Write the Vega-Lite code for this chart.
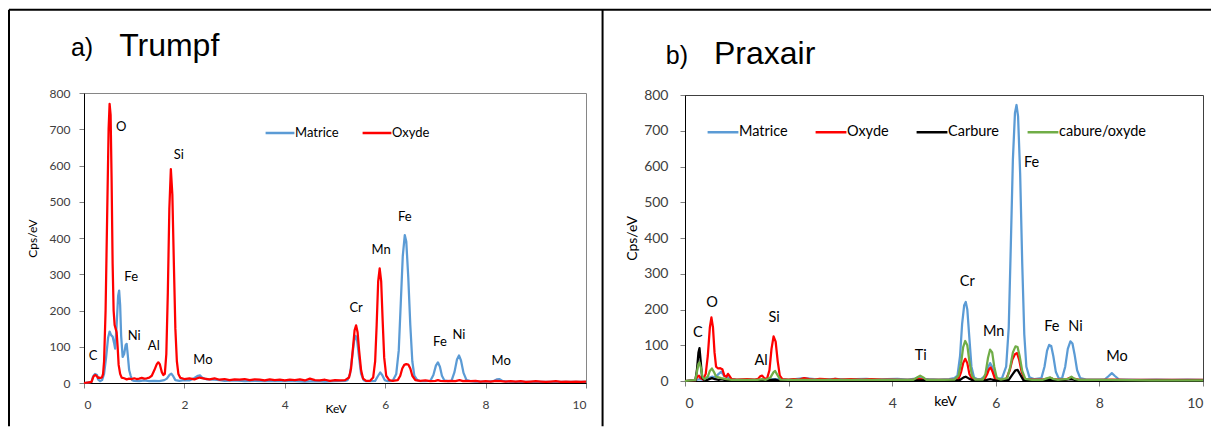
{
"$schema": "https://vega.github.io/schema/vega-lite/v6.json",
"autosize": {"type": "pad"},
"padding": {"left": 7, "top": 8, "right": 0, "bottom": 0},
"background": "#ffffff",
"bounds": "flush",
"spacing": 99,
"center": true,
"config": {"axis": {"labelOverlap": false}},
"resolve": {"scale": {"x": "independent", "y": "independent", "color": "independent"}, "legend": {"color": "independent"}},
"datasets": {
"a_lines": [
{"series":"Matrice","keV":0,"cps":0},{"series":"Matrice","keV":0.1,"cps":2},{"series":"Matrice","keV":0.15,"cps":3},{"series":"Matrice","keV":0.18,"cps":18},{"series":"Matrice","keV":0.22,"cps":25},{"series":"Matrice","keV":0.26,"cps":22},{"series":"Matrice","keV":0.28,"cps":10},{"series":"Matrice","keV":0.32,"cps":5},{"series":"Matrice","keV":0.36,"cps":8},{"series":"Matrice","keV":0.4,"cps":25},{"series":"Matrice","keV":0.44,"cps":70},{"series":"Matrice","keV":0.48,"cps":125},{"series":"Matrice","keV":0.51,"cps":142},{"series":"Matrice","keV":0.54,"cps":132},{"series":"Matrice","keV":0.57,"cps":128},{"series":"Matrice","keV":0.6,"cps":110},{"series":"Matrice","keV":0.62,"cps":95},{"series":"Matrice","keV":0.65,"cps":160},{"series":"Matrice","keV":0.68,"cps":240},{"series":"Matrice","keV":0.7,"cps":255},{"series":"Matrice","keV":0.72,"cps":215},{"series":"Matrice","keV":0.74,"cps":130},{"series":"Matrice","keV":0.77,"cps":72},{"series":"Matrice","keV":0.8,"cps":80},{"series":"Matrice","keV":0.83,"cps":105},{"series":"Matrice","keV":0.85,"cps":108},{"series":"Matrice","keV":0.87,"cps":80},{"series":"Matrice","keV":0.9,"cps":35},{"series":"Matrice","keV":0.93,"cps":20},{"series":"Matrice","keV":0.96,"cps":8},{"series":"Matrice","keV":1.0,"cps":6},{"series":"Matrice","keV":1.1,"cps":5},{"series":"Matrice","keV":1.2,"cps":7},{"series":"Matrice","keV":1.3,"cps":5},{"series":"Matrice","keV":1.4,"cps":6},{"series":"Matrice","keV":1.5,"cps":5},{"series":"Matrice","keV":1.6,"cps":8},{"series":"Matrice","keV":1.65,"cps":12},{"series":"Matrice","keV":1.7,"cps":22},{"series":"Matrice","keV":1.74,"cps":26},{"series":"Matrice","keV":1.78,"cps":18},{"series":"Matrice","keV":1.82,"cps":8},{"series":"Matrice","keV":1.9,"cps":6},{"series":"Matrice","keV":2.0,"cps":8},{"series":"Matrice","keV":2.1,"cps":7},{"series":"Matrice","keV":2.2,"cps":14},{"series":"Matrice","keV":2.27,"cps":20},{"series":"Matrice","keV":2.31,"cps":21},{"series":"Matrice","keV":2.36,"cps":14},{"series":"Matrice","keV":2.45,"cps":10},{"series":"Matrice","keV":2.6,"cps":9},{"series":"Matrice","keV":2.7,"cps":8},{"series":"Matrice","keV":2.8,"cps":6},{"series":"Matrice","keV":3.0,"cps":7},{"series":"Matrice","keV":3.2,"cps":5},{"series":"Matrice","keV":3.4,"cps":6},{"series":"Matrice","keV":3.6,"cps":5},{"series":"Matrice","keV":3.8,"cps":6},{"series":"Matrice","keV":4.0,"cps":5},{"series":"Matrice","keV":4.2,"cps":5},{"series":"Matrice","keV":4.4,"cps":4},{"series":"Matrice","keV":4.6,"cps":5},{"series":"Matrice","keV":4.8,"cps":4},{"series":"Matrice","keV":5.0,"cps":5},{"series":"Matrice","keV":5.2,"cps":6},{"series":"Matrice","keV":5.25,"cps":8},{"series":"Matrice","keV":5.3,"cps":25},{"series":"Matrice","keV":5.34,"cps":70},{"series":"Matrice","keV":5.38,"cps":115},{"series":"Matrice","keV":5.41,"cps":130},{"series":"Matrice","keV":5.44,"cps":118},{"series":"Matrice","keV":5.48,"cps":70},{"series":"Matrice","keV":5.52,"cps":25},{"series":"Matrice","keV":5.57,"cps":8},{"series":"Matrice","keV":5.62,"cps":5},{"series":"Matrice","keV":5.7,"cps":5},{"series":"Matrice","keV":5.8,"cps":6},{"series":"Matrice","keV":5.85,"cps":18},{"series":"Matrice","keV":5.9,"cps":29},{"series":"Matrice","keV":5.94,"cps":22},{"series":"Matrice","keV":5.99,"cps":8},{"series":"Matrice","keV":6.05,"cps":5},{"series":"Matrice","keV":6.15,"cps":6},{"series":"Matrice","keV":6.22,"cps":25},{"series":"Matrice","keV":6.27,"cps":90},{"series":"Matrice","keV":6.31,"cps":220},{"series":"Matrice","keV":6.35,"cps":350},{"series":"Matrice","keV":6.39,"cps":408},{"series":"Matrice","keV":6.42,"cps":390},{"series":"Matrice","keV":6.46,"cps":290},{"series":"Matrice","keV":6.5,"cps":160},{"series":"Matrice","keV":6.54,"cps":60},{"series":"Matrice","keV":6.58,"cps":20},{"series":"Matrice","keV":6.64,"cps":8},{"series":"Matrice","keV":6.7,"cps":5},{"series":"Matrice","keV":6.8,"cps":5},{"series":"Matrice","keV":6.9,"cps":6},{"series":"Matrice","keV":6.96,"cps":22},{"series":"Matrice","keV":7.01,"cps":48},{"series":"Matrice","keV":7.05,"cps":57},{"series":"Matrice","keV":7.09,"cps":45},{"series":"Matrice","keV":7.13,"cps":20},{"series":"Matrice","keV":7.18,"cps":7},{"series":"Matrice","keV":7.25,"cps":5},{"series":"Matrice","keV":7.32,"cps":6},{"series":"Matrice","keV":7.38,"cps":30},{"series":"Matrice","keV":7.43,"cps":65},{"series":"Matrice","keV":7.47,"cps":76},{"series":"Matrice","keV":7.51,"cps":62},{"series":"Matrice","keV":7.56,"cps":28},{"series":"Matrice","keV":7.62,"cps":8},{"series":"Matrice","keV":7.7,"cps":5},{"series":"Matrice","keV":7.8,"cps":4},{"series":"Matrice","keV":8.0,"cps":4},{"series":"Matrice","keV":8.15,"cps":5},{"series":"Matrice","keV":8.22,"cps":10},{"series":"Matrice","keV":8.27,"cps":11},{"series":"Matrice","keV":8.33,"cps":6},{"series":"Matrice","keV":8.45,"cps":4},{"series":"Matrice","keV":8.6,"cps":3},{"series":"Matrice","keV":9.0,"cps":3},{"series":"Matrice","keV":9.5,"cps":3},{"series":"Matrice","keV":10,"cps":3},
{"series":"Oxyde","keV":0,"cps":0},{"series":"Oxyde","keV":0.1,"cps":2},{"series":"Oxyde","keV":0.15,"cps":3},{"series":"Oxyde","keV":0.18,"cps":15},{"series":"Oxyde","keV":0.2,"cps":20},{"series":"Oxyde","keV":0.23,"cps":22},{"series":"Oxyde","keV":0.26,"cps":18},{"series":"Oxyde","keV":0.28,"cps":14},{"series":"Oxyde","keV":0.3,"cps":15},{"series":"Oxyde","keV":0.33,"cps":14},{"series":"Oxyde","keV":0.36,"cps":16},{"series":"Oxyde","keV":0.38,"cps":25},{"series":"Oxyde","keV":0.4,"cps":60},{"series":"Oxyde","keV":0.43,"cps":200},{"series":"Oxyde","keV":0.46,"cps":450},{"series":"Oxyde","keV":0.49,"cps":700},{"series":"Oxyde","keV":0.51,"cps":770},{"series":"Oxyde","keV":0.53,"cps":740},{"series":"Oxyde","keV":0.55,"cps":560},{"series":"Oxyde","keV":0.57,"cps":330},{"series":"Oxyde","keV":0.59,"cps":200},{"series":"Oxyde","keV":0.61,"cps":160},{"series":"Oxyde","keV":0.63,"cps":150},{"series":"Oxyde","keV":0.65,"cps":140},{"series":"Oxyde","keV":0.67,"cps":100},{"series":"Oxyde","keV":0.69,"cps":50},{"series":"Oxyde","keV":0.72,"cps":25},{"series":"Oxyde","keV":0.75,"cps":15},{"series":"Oxyde","keV":0.8,"cps":13},{"series":"Oxyde","keV":0.85,"cps":10},{"series":"Oxyde","keV":0.9,"cps":12},{"series":"Oxyde","keV":0.95,"cps":11},{"series":"Oxyde","keV":1.0,"cps":13},{"series":"Oxyde","keV":1.05,"cps":11},{"series":"Oxyde","keV":1.1,"cps":12},{"series":"Oxyde","keV":1.15,"cps":14},{"series":"Oxyde","keV":1.2,"cps":12},{"series":"Oxyde","keV":1.25,"cps":13},{"series":"Oxyde","keV":1.3,"cps":15},{"series":"Oxyde","keV":1.35,"cps":20},{"series":"Oxyde","keV":1.4,"cps":35},{"series":"Oxyde","keV":1.45,"cps":52},{"series":"Oxyde","keV":1.48,"cps":57},{"series":"Oxyde","keV":1.51,"cps":52},{"series":"Oxyde","keV":1.55,"cps":30},{"series":"Oxyde","keV":1.58,"cps":22},{"series":"Oxyde","keV":1.61,"cps":25},{"series":"Oxyde","keV":1.64,"cps":80},{"series":"Oxyde","keV":1.67,"cps":250},{"series":"Oxyde","keV":1.7,"cps":480},{"series":"Oxyde","keV":1.73,"cps":590},{"series":"Oxyde","keV":1.76,"cps":520},{"series":"Oxyde","keV":1.79,"cps":330},{"series":"Oxyde","keV":1.82,"cps":150},{"series":"Oxyde","keV":1.85,"cps":60},{"series":"Oxyde","keV":1.88,"cps":25},{"series":"Oxyde","keV":1.92,"cps":14},{"series":"Oxyde","keV":2.0,"cps":11},{"series":"Oxyde","keV":2.1,"cps":13},{"series":"Oxyde","keV":2.2,"cps":10},{"series":"Oxyde","keV":2.3,"cps":15},{"series":"Oxyde","keV":2.4,"cps":12},{"series":"Oxyde","keV":2.5,"cps":10},{"series":"Oxyde","keV":2.6,"cps":13},{"series":"Oxyde","keV":2.7,"cps":9},{"series":"Oxyde","keV":2.8,"cps":11},{"series":"Oxyde","keV":2.9,"cps":8},{"series":"Oxyde","keV":3.0,"cps":10},{"series":"Oxyde","keV":3.1,"cps":9},{"series":"Oxyde","keV":3.2,"cps":11},{"series":"Oxyde","keV":3.3,"cps":8},{"series":"Oxyde","keV":3.4,"cps":10},{"series":"Oxyde","keV":3.5,"cps":9},{"series":"Oxyde","keV":3.6,"cps":7},{"series":"Oxyde","keV":3.7,"cps":10},{"series":"Oxyde","keV":3.8,"cps":8},{"series":"Oxyde","keV":3.9,"cps":9},{"series":"Oxyde","keV":4.0,"cps":7},{"series":"Oxyde","keV":4.1,"cps":9},{"series":"Oxyde","keV":4.2,"cps":8},{"series":"Oxyde","keV":4.3,"cps":10},{"series":"Oxyde","keV":4.4,"cps":7},{"series":"Oxyde","keV":4.5,"cps":12},{"series":"Oxyde","keV":4.6,"cps":8},{"series":"Oxyde","keV":4.7,"cps":7},{"series":"Oxyde","keV":4.8,"cps":9},{"series":"Oxyde","keV":4.9,"cps":6},{"series":"Oxyde","keV":5.0,"cps":8},{"series":"Oxyde","keV":5.1,"cps":7},{"series":"Oxyde","keV":5.2,"cps":8},{"series":"Oxyde","keV":5.28,"cps":15},{"series":"Oxyde","keV":5.32,"cps":40},{"series":"Oxyde","keV":5.36,"cps":100},{"series":"Oxyde","keV":5.39,"cps":145},{"series":"Oxyde","keV":5.42,"cps":159},{"series":"Oxyde","keV":5.45,"cps":140},{"series":"Oxyde","keV":5.48,"cps":90},{"series":"Oxyde","keV":5.52,"cps":35},{"series":"Oxyde","keV":5.56,"cps":12},{"series":"Oxyde","keV":5.62,"cps":6},{"series":"Oxyde","keV":5.7,"cps":6},{"series":"Oxyde","keV":5.76,"cps":15},{"series":"Oxyde","keV":5.8,"cps":60},{"series":"Oxyde","keV":5.83,"cps":160},{"series":"Oxyde","keV":5.86,"cps":280},{"series":"Oxyde","keV":5.89,"cps":316},{"series":"Oxyde","keV":5.92,"cps":280},{"series":"Oxyde","keV":5.95,"cps":170},{"series":"Oxyde","keV":5.98,"cps":70},{"series":"Oxyde","keV":6.02,"cps":20},{"series":"Oxyde","keV":6.08,"cps":8},{"series":"Oxyde","keV":6.15,"cps":6},{"series":"Oxyde","keV":6.25,"cps":8},{"series":"Oxyde","keV":6.3,"cps":20},{"series":"Oxyde","keV":6.34,"cps":40},{"series":"Oxyde","keV":6.38,"cps":50},{"series":"Oxyde","keV":6.42,"cps":52},{"series":"Oxyde","keV":6.46,"cps":51},{"series":"Oxyde","keV":6.5,"cps":40},{"series":"Oxyde","keV":6.54,"cps":20},{"series":"Oxyde","keV":6.6,"cps":8},{"series":"Oxyde","keV":6.7,"cps":6},{"series":"Oxyde","keV":6.8,"cps":7},{"series":"Oxyde","keV":6.9,"cps":5},{"series":"Oxyde","keV":7.0,"cps":6},{"series":"Oxyde","keV":7.05,"cps":8},{"series":"Oxyde","keV":7.1,"cps":6},{"series":"Oxyde","keV":7.2,"cps":5},{"series":"Oxyde","keV":7.3,"cps":6},{"series":"Oxyde","keV":7.4,"cps":5},{"series":"Oxyde","keV":7.48,"cps":8},{"series":"Oxyde","keV":7.55,"cps":5},{"series":"Oxyde","keV":7.6,"cps":6},{"series":"Oxyde","keV":7.7,"cps":5},{"series":"Oxyde","keV":7.8,"cps":6},{"series":"Oxyde","keV":7.9,"cps":4},{"series":"Oxyde","keV":8.0,"cps":5},{"series":"Oxyde","keV":8.1,"cps":4},{"series":"Oxyde","keV":8.2,"cps":6},{"series":"Oxyde","keV":8.3,"cps":5},{"series":"Oxyde","keV":8.4,"cps":4},{"series":"Oxyde","keV":8.5,"cps":5},{"series":"Oxyde","keV":8.6,"cps":4},{"series":"Oxyde","keV":8.7,"cps":5},{"series":"Oxyde","keV":8.8,"cps":3},{"series":"Oxyde","keV":8.9,"cps":4},{"series":"Oxyde","keV":9.0,"cps":5},{"series":"Oxyde","keV":9.1,"cps":4},{"series":"Oxyde","keV":9.2,"cps":3},{"series":"Oxyde","keV":9.3,"cps":4},{"series":"Oxyde","keV":9.4,"cps":5},{"series":"Oxyde","keV":9.5,"cps":3},{"series":"Oxyde","keV":9.6,"cps":4},{"series":"Oxyde","keV":9.7,"cps":3},{"series":"Oxyde","keV":9.8,"cps":4},{"series":"Oxyde","keV":9.9,"cps":3},{"series":"Oxyde","keV":10,"cps":4}
],
"a_labels": [
{"t":"C","keV":0.18,"cps":74},{"t":"O","keV":0.74,"cps":706},{"t":"Si","keV":1.89,"cps":629},{"t":"Fe","keV":0.94,"cps":292},{"t":"Ni","keV":1.0,"cps":130},{"t":"Al","keV":1.39,"cps":102},{"t":"Mo","keV":2.37,"cps":63},{"t":"Cr","keV":5.42,"cps":207},{"t":"Mn","keV":5.92,"cps":367},{"t":"Fe","keV":6.39,"cps":458},{"t":"Fe","keV":7.09,"cps":113},{"t":"Ni","keV":7.47,"cps":132},{"t":"Mo","keV":8.31,"cps":61}
],
"b_lines": [
{"series":"Matrice","keV":0,"cps":0},{"series":"Matrice","keV":0.2,"cps":2},{"series":"Matrice","keV":0.27,"cps":5},{"series":"Matrice","keV":0.35,"cps":3},{"series":"Matrice","keV":0.45,"cps":8},{"series":"Matrice","keV":0.52,"cps":12},{"series":"Matrice","keV":0.58,"cps":10},{"series":"Matrice","keV":0.65,"cps":20},{"series":"Matrice","keV":0.7,"cps":26},{"series":"Matrice","keV":0.75,"cps":15},{"series":"Matrice","keV":0.83,"cps":10},{"series":"Matrice","keV":0.9,"cps":5},{"series":"Matrice","keV":1.0,"cps":3},{"series":"Matrice","keV":1.2,"cps":4},{"series":"Matrice","keV":1.5,"cps":3},{"series":"Matrice","keV":1.74,"cps":5},{"series":"Matrice","keV":2.0,"cps":3},{"series":"Matrice","keV":2.3,"cps":8},{"series":"Matrice","keV":2.5,"cps":5},{"series":"Matrice","keV":2.7,"cps":4},{"series":"Matrice","keV":2.9,"cps":6},{"series":"Matrice","keV":3.1,"cps":4},{"series":"Matrice","keV":3.3,"cps":5},{"series":"Matrice","keV":3.5,"cps":6},{"series":"Matrice","keV":3.7,"cps":4},{"series":"Matrice","keV":3.9,"cps":5},{"series":"Matrice","keV":4.1,"cps":6},{"series":"Matrice","keV":4.3,"cps":4},{"series":"Matrice","keV":4.45,"cps":7},{"series":"Matrice","keV":4.52,"cps":11},{"series":"Matrice","keV":4.58,"cps":6},{"series":"Matrice","keV":4.7,"cps":5},{"series":"Matrice","keV":4.9,"cps":4},{"series":"Matrice","keV":5.1,"cps":5},{"series":"Matrice","keV":5.2,"cps":8},{"series":"Matrice","keV":5.26,"cps":15},{"series":"Matrice","keV":5.31,"cps":70},{"series":"Matrice","keV":5.35,"cps":160},{"series":"Matrice","keV":5.39,"cps":212},{"series":"Matrice","keV":5.42,"cps":221},{"series":"Matrice","keV":5.45,"cps":200},{"series":"Matrice","keV":5.49,"cps":120},{"series":"Matrice","keV":5.53,"cps":40},{"series":"Matrice","keV":5.58,"cps":10},{"series":"Matrice","keV":5.65,"cps":5},{"series":"Matrice","keV":5.72,"cps":6},{"series":"Matrice","keV":5.8,"cps":15},{"series":"Matrice","keV":5.85,"cps":38},{"series":"Matrice","keV":5.89,"cps":50},{"series":"Matrice","keV":5.93,"cps":40},{"series":"Matrice","keV":5.98,"cps":15},{"series":"Matrice","keV":6.04,"cps":6},{"series":"Matrice","keV":6.12,"cps":8},{"series":"Matrice","keV":6.2,"cps":40},{"series":"Matrice","keV":6.25,"cps":150},{"series":"Matrice","keV":6.29,"cps":380},{"series":"Matrice","keV":6.33,"cps":620},{"series":"Matrice","keV":6.37,"cps":750},{"series":"Matrice","keV":6.4,"cps":772},{"series":"Matrice","keV":6.43,"cps":740},{"series":"Matrice","keV":6.47,"cps":580},{"series":"Matrice","keV":6.51,"cps":330},{"series":"Matrice","keV":6.55,"cps":130},{"series":"Matrice","keV":6.59,"cps":40},{"series":"Matrice","keV":6.65,"cps":10},{"series":"Matrice","keV":6.75,"cps":5},{"series":"Matrice","keV":6.88,"cps":8},{"series":"Matrice","keV":6.94,"cps":40},{"series":"Matrice","keV":6.99,"cps":85},{"series":"Matrice","keV":7.03,"cps":101},{"series":"Matrice","keV":7.07,"cps":98},{"series":"Matrice","keV":7.11,"cps":70},{"series":"Matrice","keV":7.16,"cps":25},{"series":"Matrice","keV":7.22,"cps":6},{"series":"Matrice","keV":7.28,"cps":8},{"series":"Matrice","keV":7.34,"cps":40},{"series":"Matrice","keV":7.39,"cps":90},{"series":"Matrice","keV":7.44,"cps":111},{"series":"Matrice","keV":7.48,"cps":105},{"series":"Matrice","keV":7.52,"cps":75},{"series":"Matrice","keV":7.57,"cps":30},{"series":"Matrice","keV":7.63,"cps":8},{"series":"Matrice","keV":7.75,"cps":4},{"series":"Matrice","keV":7.9,"cps":4},{"series":"Matrice","keV":8.1,"cps":4},{"series":"Matrice","keV":8.18,"cps":14},{"series":"Matrice","keV":8.24,"cps":22},{"series":"Matrice","keV":8.3,"cps":14},{"series":"Matrice","keV":8.38,"cps":4},{"series":"Matrice","keV":8.5,"cps":4},{"series":"Matrice","keV":8.8,"cps":3},{"series":"Matrice","keV":9.1,"cps":4},{"series":"Matrice","keV":9.4,"cps":3},{"series":"Matrice","keV":9.7,"cps":4},{"series":"Matrice","keV":10,"cps":3},
{"series":"Oxyde","keV":0,"cps":0},{"series":"Oxyde","keV":0.2,"cps":2},{"series":"Oxyde","keV":0.24,"cps":12},{"series":"Oxyde","keV":0.27,"cps":15},{"series":"Oxyde","keV":0.3,"cps":8},{"series":"Oxyde","keV":0.35,"cps":4},{"series":"Oxyde","keV":0.4,"cps":20},{"series":"Oxyde","keV":0.44,"cps":70},{"series":"Oxyde","keV":0.48,"cps":150},{"series":"Oxyde","keV":0.51,"cps":178},{"series":"Oxyde","keV":0.54,"cps":150},{"series":"Oxyde","keV":0.57,"cps":80},{"series":"Oxyde","keV":0.6,"cps":40},{"series":"Oxyde","keV":0.64,"cps":35},{"series":"Oxyde","keV":0.68,"cps":36},{"series":"Oxyde","keV":0.72,"cps":33},{"series":"Oxyde","keV":0.76,"cps":15},{"series":"Oxyde","keV":0.8,"cps":12},{"series":"Oxyde","keV":0.83,"cps":20},{"series":"Oxyde","keV":0.86,"cps":14},{"series":"Oxyde","keV":0.9,"cps":5},{"series":"Oxyde","keV":1.0,"cps":4},{"series":"Oxyde","keV":1.2,"cps":5},{"series":"Oxyde","keV":1.35,"cps":4},{"series":"Oxyde","keV":1.41,"cps":6},{"series":"Oxyde","keV":1.45,"cps":13},{"series":"Oxyde","keV":1.49,"cps":15},{"series":"Oxyde","keV":1.53,"cps":8},{"series":"Oxyde","keV":1.58,"cps":5},{"series":"Oxyde","keV":1.63,"cps":30},{"series":"Oxyde","keV":1.67,"cps":90},{"series":"Oxyde","keV":1.71,"cps":125},{"series":"Oxyde","keV":1.75,"cps":110},{"series":"Oxyde","keV":1.79,"cps":55},{"series":"Oxyde","keV":1.83,"cps":15},{"series":"Oxyde","keV":1.88,"cps":5},{"series":"Oxyde","keV":2.0,"cps":4},{"series":"Oxyde","keV":2.1,"cps":5},{"series":"Oxyde","keV":2.2,"cps":4},{"series":"Oxyde","keV":2.3,"cps":8},{"series":"Oxyde","keV":2.4,"cps":5},{"series":"Oxyde","keV":2.5,"cps":4},{"series":"Oxyde","keV":2.6,"cps":6},{"series":"Oxyde","keV":2.7,"cps":5},{"series":"Oxyde","keV":2.8,"cps":4},{"series":"Oxyde","keV":2.9,"cps":6},{"series":"Oxyde","keV":3.0,"cps":4},{"series":"Oxyde","keV":3.2,"cps":5},{"series":"Oxyde","keV":3.4,"cps":4},{"series":"Oxyde","keV":3.6,"cps":5},{"series":"Oxyde","keV":3.8,"cps":4},{"series":"Oxyde","keV":4.0,"cps":4},{"series":"Oxyde","keV":4.2,"cps":3},{"series":"Oxyde","keV":4.4,"cps":4},{"series":"Oxyde","keV":4.52,"cps":6},{"series":"Oxyde","keV":4.6,"cps":4},{"series":"Oxyde","keV":4.8,"cps":3},{"series":"Oxyde","keV":5.0,"cps":3},{"series":"Oxyde","keV":5.2,"cps":3},{"series":"Oxyde","keV":5.28,"cps":5},{"series":"Oxyde","keV":5.33,"cps":25},{"series":"Oxyde","keV":5.37,"cps":50},{"series":"Oxyde","keV":5.41,"cps":62},{"series":"Oxyde","keV":5.45,"cps":50},{"series":"Oxyde","keV":5.49,"cps":20},{"series":"Oxyde","keV":5.55,"cps":4},{"series":"Oxyde","keV":5.7,"cps":3},{"series":"Oxyde","keV":5.78,"cps":4},{"series":"Oxyde","keV":5.83,"cps":18},{"series":"Oxyde","keV":5.87,"cps":33},{"series":"Oxyde","keV":5.9,"cps":38},{"series":"Oxyde","keV":5.94,"cps":25},{"series":"Oxyde","keV":5.98,"cps":8},{"series":"Oxyde","keV":6.03,"cps":3},{"series":"Oxyde","keV":6.12,"cps":3},{"series":"Oxyde","keV":6.2,"cps":5},{"series":"Oxyde","keV":6.27,"cps":30},{"series":"Oxyde","keV":6.32,"cps":60},{"series":"Oxyde","keV":6.37,"cps":75},{"series":"Oxyde","keV":6.41,"cps":78},{"series":"Oxyde","keV":6.45,"cps":60},{"series":"Oxyde","keV":6.5,"cps":25},{"series":"Oxyde","keV":6.56,"cps":5},{"series":"Oxyde","keV":6.7,"cps":4},{"series":"Oxyde","keV":6.9,"cps":4},{"series":"Oxyde","keV":7.0,"cps":7},{"series":"Oxyde","keV":7.05,"cps":9},{"series":"Oxyde","keV":7.1,"cps":6},{"series":"Oxyde","keV":7.2,"cps":4},{"series":"Oxyde","keV":7.35,"cps":4},{"series":"Oxyde","keV":7.42,"cps":8},{"series":"Oxyde","keV":7.46,"cps":10},{"series":"Oxyde","keV":7.5,"cps":7},{"series":"Oxyde","keV":7.6,"cps":4},{"series":"Oxyde","keV":7.8,"cps":3},{"series":"Oxyde","keV":8.0,"cps":3},{"series":"Oxyde","keV":8.25,"cps":4},{"series":"Oxyde","keV":8.5,"cps":3},{"series":"Oxyde","keV":9.0,"cps":3},{"series":"Oxyde","keV":9.5,"cps":3},{"series":"Oxyde","keV":10,"cps":3},
{"series":"Carbure","keV":0,"cps":0},{"series":"Carbure","keV":0.2,"cps":2},{"series":"Carbure","keV":0.23,"cps":30},{"series":"Carbure","keV":0.26,"cps":80},{"series":"Carbure","keV":0.28,"cps":92},{"series":"Carbure","keV":0.3,"cps":60},{"series":"Carbure","keV":0.33,"cps":10},{"series":"Carbure","keV":0.38,"cps":2},{"series":"Carbure","keV":0.45,"cps":4},{"series":"Carbure","keV":0.52,"cps":8},{"series":"Carbure","keV":0.58,"cps":5},{"series":"Carbure","keV":0.65,"cps":3},{"series":"Carbure","keV":0.7,"cps":5},{"series":"Carbure","keV":0.8,"cps":2},{"series":"Carbure","keV":1.0,"cps":1},{"series":"Carbure","keV":1.5,"cps":1},{"series":"Carbure","keV":1.74,"cps":4},{"series":"Carbure","keV":1.8,"cps":1},{"series":"Carbure","keV":2.5,"cps":1},{"series":"Carbure","keV":3.5,"cps":1},{"series":"Carbure","keV":4.5,"cps":2},{"series":"Carbure","keV":5.3,"cps":2},{"series":"Carbure","keV":5.38,"cps":10},{"series":"Carbure","keV":5.42,"cps":12},{"series":"Carbure","keV":5.47,"cps":8},{"series":"Carbure","keV":5.55,"cps":2},{"series":"Carbure","keV":5.8,"cps":2},{"series":"Carbure","keV":5.85,"cps":4},{"series":"Carbure","keV":5.9,"cps":5},{"series":"Carbure","keV":5.95,"cps":3},{"series":"Carbure","keV":6.0,"cps":1},{"series":"Carbure","keV":6.25,"cps":3},{"series":"Carbure","keV":6.32,"cps":18},{"series":"Carbure","keV":6.38,"cps":30},{"series":"Carbure","keV":6.42,"cps":31},{"series":"Carbure","keV":6.47,"cps":18},{"series":"Carbure","keV":6.53,"cps":3},{"series":"Carbure","keV":6.8,"cps":1},{"series":"Carbure","keV":7.05,"cps":4},{"series":"Carbure","keV":7.2,"cps":1},{"series":"Carbure","keV":7.45,"cps":5},{"series":"Carbure","keV":7.6,"cps":1},{"series":"Carbure","keV":8.5,"cps":1},{"series":"Carbure","keV":10,"cps":1},
{"series":"cabure/oxyde","keV":0,"cps":0},{"series":"cabure/oxyde","keV":0.2,"cps":3},{"series":"cabure/oxyde","keV":0.23,"cps":25},{"series":"cabure/oxyde","keV":0.26,"cps":48},{"series":"cabure/oxyde","keV":0.28,"cps":52},{"series":"cabure/oxyde","keV":0.31,"cps":35},{"series":"cabure/oxyde","keV":0.34,"cps":10},{"series":"cabure/oxyde","keV":0.38,"cps":5},{"series":"cabure/oxyde","keV":0.44,"cps":12},{"series":"cabure/oxyde","keV":0.48,"cps":28},{"series":"cabure/oxyde","keV":0.52,"cps":35},{"series":"cabure/oxyde","keV":0.56,"cps":25},{"series":"cabure/oxyde","keV":0.6,"cps":12},{"series":"cabure/oxyde","keV":0.65,"cps":10},{"series":"cabure/oxyde","keV":0.7,"cps":8},{"series":"cabure/oxyde","keV":0.8,"cps":5},{"series":"cabure/oxyde","keV":0.9,"cps":3},{"series":"cabure/oxyde","keV":1.4,"cps":3},{"series":"cabure/oxyde","keV":1.49,"cps":5},{"series":"cabure/oxyde","keV":1.55,"cps":3},{"series":"cabure/oxyde","keV":1.65,"cps":10},{"series":"cabure/oxyde","keV":1.71,"cps":25},{"series":"cabure/oxyde","keV":1.74,"cps":28},{"series":"cabure/oxyde","keV":1.78,"cps":18},{"series":"cabure/oxyde","keV":1.84,"cps":4},{"series":"cabure/oxyde","keV":2.0,"cps":3},{"series":"cabure/oxyde","keV":3.0,"cps":3},{"series":"cabure/oxyde","keV":4.0,"cps":3},{"series":"cabure/oxyde","keV":4.4,"cps":3},{"series":"cabure/oxyde","keV":4.48,"cps":10},{"series":"cabure/oxyde","keV":4.54,"cps":15},{"series":"cabure/oxyde","keV":4.6,"cps":10},{"series":"cabure/oxyde","keV":4.66,"cps":3},{"series":"cabure/oxyde","keV":5.0,"cps":3},{"series":"cabure/oxyde","keV":5.2,"cps":4},{"series":"cabure/oxyde","keV":5.28,"cps":15},{"series":"cabure/oxyde","keV":5.33,"cps":50},{"series":"cabure/oxyde","keV":5.37,"cps":95},{"series":"cabure/oxyde","keV":5.41,"cps":112},{"series":"cabure/oxyde","keV":5.45,"cps":100},{"series":"cabure/oxyde","keV":5.49,"cps":55},{"series":"cabure/oxyde","keV":5.54,"cps":15},{"series":"cabure/oxyde","keV":5.6,"cps":4},{"series":"cabure/oxyde","keV":5.75,"cps":4},{"series":"cabure/oxyde","keV":5.8,"cps":20},{"series":"cabure/oxyde","keV":5.85,"cps":65},{"series":"cabure/oxyde","keV":5.89,"cps":88},{"series":"cabure/oxyde","keV":5.93,"cps":80},{"series":"cabure/oxyde","keV":5.97,"cps":40},{"series":"cabure/oxyde","keV":6.02,"cps":8},{"series":"cabure/oxyde","keV":6.1,"cps":4},{"series":"cabure/oxyde","keV":6.22,"cps":8},{"series":"cabure/oxyde","keV":6.28,"cps":40},{"series":"cabure/oxyde","keV":6.33,"cps":80},{"series":"cabure/oxyde","keV":6.38,"cps":97},{"series":"cabure/oxyde","keV":6.42,"cps":95},{"series":"cabure/oxyde","keV":6.46,"cps":70},{"series":"cabure/oxyde","keV":6.51,"cps":28},{"series":"cabure/oxyde","keV":6.57,"cps":6},{"series":"cabure/oxyde","keV":6.7,"cps":3},{"series":"cabure/oxyde","keV":6.9,"cps":3},{"series":"cabure/oxyde","keV":7.0,"cps":8},{"series":"cabure/oxyde","keV":7.05,"cps":10},{"series":"cabure/oxyde","keV":7.1,"cps":6},{"series":"cabure/oxyde","keV":7.2,"cps":3},{"series":"cabure/oxyde","keV":7.4,"cps":6},{"series":"cabure/oxyde","keV":7.46,"cps":12},{"series":"cabure/oxyde","keV":7.52,"cps":6},{"series":"cabure/oxyde","keV":7.6,"cps":3},{"series":"cabure/oxyde","keV":8.2,"cps":3},{"series":"cabure/oxyde","keV":9,"cps":2},{"series":"cabure/oxyde","keV":10,"cps":2}
],
"b_labels": [
{"t":"C","keV":0.25,"cps":134},{"t":"O","keV":0.52,"cps":218},{"t":"Si","keV":1.72,"cps":176},{"t":"Al","keV":1.47,"cps":56},{"t":"Ti","keV":4.55,"cps":70},{"t":"Cr","keV":5.45,"cps":277},{"t":"Mn","keV":5.96,"cps":137},{"t":"Fe","keV":6.69,"cps":610},{"t":"Fe","keV":7.08,"cps":151},{"t":"Ni","keV":7.54,"cps":151},{"t":"Mo","keV":8.34,"cps":67}
]
},
"hconcat": [
{
"width": 502, "height": 290,
"view": {"stroke": "#868686", "strokeWidth": 1},
"encoding": {
"x": {"field": "keV", "type": "quantitative", "scale": {"domain": [0, 10], "nice": false, "zero": false},
"axis": {"values": [0,2,4,6,8,10], "title": null, "grid": false, "labelOverlap": false, "domainColor": "#000000", "domainWidth": 1, "tickColor": "#808080", "tickSize": 5, "labelFont": "Lato", "labelFontSize": 12, "labelColor": "#404040", "labelPadding": 11}},
"y": {"field": "cps", "type": "quantitative", "scale": {"domain": [0, 800], "nice": false},
"axis": {"values": [0,100,200,300,400,500,600,700,800], "title": "Cps/eV", "grid": false, "labelOverlap": false, "domainColor": "#000000", "domainWidth": 1, "tickColor": "#808080", "tickSize": 5, "labelFont": "Lato", "labelFontSize": 12, "labelColor": "#404040", "labelPadding": 9, "titleFont": "Lato", "titleFontSize": 12, "titleFontWeight": "normal", "titleColor": "#000000", "titlePadding": 10}}
},
"layer": [
{
"data": {"name": "a_lines"},
"mark": {"type": "line", "strokeWidth": 2.25, "strokeJoin": "round"},
"encoding": {
"color": {"field": "series", "type": "nominal", "sort": ["Matrice", "Oxyde"],
"scale": {"domain": ["Matrice", "Oxyde"], "range": ["#5B9BD5", "#FF0000"]},
"legend": {"orient": "none", "legendX": 180, "legendY": 24, "direction": "horizontal", "title": null, "symbolType": "stroke", "symbolSize": 830, "symbolStrokeWidth": 2.5, "labelFont": "Lato", "labelFontSize": 13, "labelColor": "#000000", "columnPadding": 18, "labelOffset": -1, "padding": 0}}
}
},
{
"data": {"name": "a_labels"},
"mark": {"type": "text", "font": "Lato", "fontSize": 13, "color": "#000000", "align": "center", "baseline": "middle"},
"encoding": {"text": {"field": "t"}}
},
{
"data": {"name": "a_labels"},
"transform": [{"filter": "datum.t == 'C' && datum.keV < 0.2"}],
"mark": {"type": "text", "text": "KeV", "font": "Lato", "fontSize": 12, "color": "#000000", "align": "center", "baseline": "middle"},
"encoding": {"x": {"datum": 5.02, "type": "quantitative"}, "y": {"datum": -72, "type": "quantitative"}}
},
{
"data": {"name": "a_labels"},
"transform": [{"filter": "datum.t == 'C' && datum.keV < 0.2"}],
"mark": {"type": "text", "text": "a)", "font": "Liberation Sans", "fontSize": 25, "color": "#000000", "align": "left", "baseline": "alphabetic"},
"encoding": {"x": {"datum": -0.26, "type": "quantitative"}, "y": {"datum": 902, "type": "quantitative"}}
},
{
"data": {"name": "a_labels"},
"transform": [{"filter": "datum.t == 'C' && datum.keV < 0.2"}],
"mark": {"type": "text", "text": "Trumpf", "font": "Liberation Sans", "fontSize": 32, "color": "#000000", "align": "left", "baseline": "alphabetic"},
"encoding": {"x": {"datum": 0.7, "type": "quantitative"}, "y": {"datum": 902, "type": "quantitative"}}
},
{
"data": {"name": "a_labels"},
"transform": [{"filter": "datum.t == 'C' && datum.keV < 0.2"}],
"mark": {"type": "rule", "color": "#000000", "strokeWidth": 2, "clip": false},
"encoding": {"x": {"datum": -1.494, "type": "quantitative"}, "y": {"datum": 1030, "type": "quantitative"}, "y2": {"datum": -119}}
},
{
"data": {"name": "a_labels"},
"transform": [{"filter": "datum.t == 'C' && datum.keV < 0.2"}],
"mark": {"type": "rule", "color": "#000000", "strokeWidth": 2, "clip": false},
"encoding": {"x": {"datum": 10.33, "type": "quantitative"}, "y": {"datum": 1030, "type": "quantitative"}, "y2": {"datum": -119}}
},
{
"data": {"name": "a_labels"},
"transform": [{"filter": "datum.t == 'C' && datum.keV < 0.2"}],
"mark": {"type": "rule", "color": "#000000", "strokeWidth": 2, "clip": false},
"encoding": {"x": {"datum": -1.494, "type": "quantitative"}, "x2": {"datum": 22.45}, "y": {"datum": 1030, "type": "quantitative"}}
}
]
},
{
"width": 518, "height": 286,
"view": {"stroke": "#404040", "strokeWidth": 1},
"encoding": {
"x": {"field": "keV", "type": "quantitative", "scale": {"domain": [0, 10], "nice": false, "zero": false},
"axis": {"values": [0,2,4,6,8,10], "title": null, "grid": false, "labelOverlap": false, "domainColor": "#000000", "domainWidth": 1, "tickColor": "#808080", "tickSize": 5, "labelFont": "Lato", "labelFontSize": 14, "labelColor": "#404040", "labelPadding": 10}},
"y": {"field": "cps", "type": "quantitative", "scale": {"domain": [0, 800], "nice": false},
"axis": {"values": [0,100,200,300,400,500,600,700,800], "title": "Cps/eV", "grid": false, "labelOverlap": false, "domainColor": "#000000", "domainWidth": 1, "tickColor": "#808080", "tickSize": 5, "labelFont": "Lato", "labelFontSize": 14, "labelColor": "#404040", "labelPadding": 12, "titleFont": "Lato", "titleFontSize": 14, "titleFontWeight": "normal", "titleColor": "#000000", "titlePadding": 4}}
},
"layer": [
{
"data": {"name": "b_lines"},
"mark": {"type": "line", "strokeWidth": 2.25, "strokeJoin": "round"},
"encoding": {
"color": {"field": "series", "type": "nominal", "sort": ["Matrice", "Oxyde", "Carbure", "cabure/oxyde"],
"scale": {"domain": ["Matrice", "Oxyde", "Carbure", "cabure/oxyde"], "range": ["#5B9BD5", "#FF0000", "#000000", "#70AD47"]},
"legend": {"orient": "none", "legendX": 21, "legendY": 20, "direction": "horizontal", "title": null, "symbolType": "stroke", "symbolSize": 950, "symbolStrokeWidth": 2.5, "labelFont": "Lato", "labelFontSize": 14.5, "labelColor": "#000000", "columnPadding": 22, "labelOffset": -1, "padding": 0}}
}
},
{
"data": {"name": "b_labels"},
"mark": {"type": "text", "font": "Lato", "fontSize": 14.5, "color": "#000000", "align": "center", "baseline": "middle"},
"encoding": {"text": {"field": "t"}}
},
{
"data": {"name": "b_labels"},
"transform": [{"filter": "datum.t == 'C'"}],
"mark": {"type": "text", "text": "keV", "font": "Lato", "fontSize": 14, "color": "#000000", "align": "center", "baseline": "middle"},
"encoding": {"x": {"datum": 5.03, "type": "quantitative"}, "y": {"datum": -59, "type": "quantitative"}}
},
{
"data": {"name": "b_labels"},
"transform": [{"filter": "datum.t == 'C'"}],
"mark": {"type": "text", "text": "b)", "font": "Liberation Sans", "fontSize": 25, "color": "#000000", "align": "left", "baseline": "alphabetic"},
"encoding": {"x": {"datum": -0.37, "type": "quantitative"}, "y": {"datum": 887, "type": "quantitative"}}
},
{
"data": {"name": "b_labels"},
"transform": [{"filter": "datum.t == 'C'"}],
"mark": {"type": "text", "text": "Praxair", "font": "Liberation Sans", "fontSize": 32, "color": "#000000", "align": "left", "baseline": "alphabetic"},
"encoding": {"x": {"datum": 0.56, "type": "quantitative"}, "y": {"datum": 887, "type": "quantitative"}}
}
]
}
]
}
